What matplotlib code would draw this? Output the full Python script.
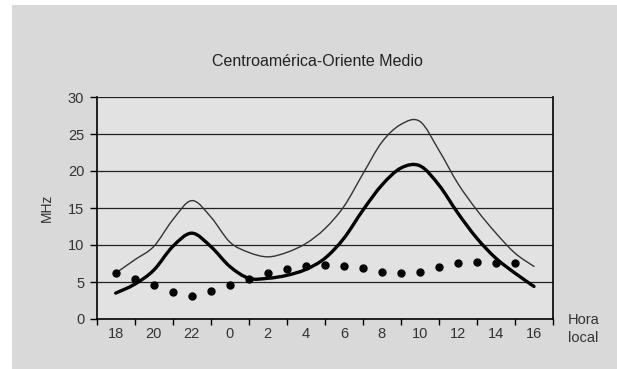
import matplotlib
matplotlib.use('Agg')
import matplotlib.pyplot as plt
from matplotlib.patches import Rectangle, PathPatch
from matplotlib.path import Path

plt.rcParams['font.family'] = ['Liberation Sans', 'DejaVu Sans']

# local hour, continuous from 18 (day 1) to 16 (day 2)
hours = [18, 19, 20, 21, 22, 23, 24, 25, 26, 27, 28, 29, 30, 31, 32, 33, 34, 35, 36, 37, 38, 39, 40]
upper = [6.2, 8.0, 9.8, 13.4, 16.0, 13.8, 10.4, 9.0, 8.4, 9.0, 10.2, 12.2, 15.2, 19.6, 23.9, 26.3, 26.7, 22.8, 18.3, 14.7, 11.6, 8.9, 7.1]
lower = [3.5, 4.7, 6.6, 9.8, 11.6, 9.8, 7.1, 5.5, 5.5, 5.9, 6.7, 8.2, 10.9, 14.7, 18.1, 20.4, 20.7, 18.1, 14.3, 10.9, 8.2, 6.2, 4.4]
# dotted series has no point at 16 h
dot_hours = hours[:-1]
dots = [6.2, 5.4, 4.6, 3.6, 3.15, 3.8, 4.6, 5.4, 6.25, 6.7, 7.1, 7.3, 7.1, 6.95, 6.4, 6.2, 6.4, 7.0, 7.55, 7.7, 7.55, 7.55]

tick_hours = list(range(18, 41, 2))
tick_labels = [str(h % 24) for h in tick_hours]
y_ticks = [0, 5, 10, 15, 20, 25, 30]


def smooth_path(xs, ys):
    # Excel-like smoothed line: cubic bezier through every point
    verts = [(xs[0], ys[0])]
    codes = [Path.MOVETO]
    n = len(xs)
    for i in range(n - 1):
        x0, y0 = (xs[i - 1], ys[i - 1]) if i > 0 else (xs[i], ys[i])
        x1, y1 = xs[i], ys[i]
        x2, y2 = xs[i + 1], ys[i + 1]
        x3, y3 = (xs[i + 2], ys[i + 2]) if i + 2 < n else (x2, y2)
        verts += [(x1 + (x2 - x0) / 6, y1 + (y2 - y0) / 6),
                  (x2 - (x3 - x1) / 6, y2 - (y3 - y1) / 6),
                  (x2, y2)]
        codes += [Path.CURVE4] * 3
    return Path(verts, codes)


fig = plt.figure(figsize=(6.17, 3.69), dpi=100)
fig.patch.set_facecolor('white')
fig.patches.append(Rectangle((12 / 617, 0), 1, 1 - 5 / 369, transform=fig.transFigure,
                             facecolor='#d9d9d9', edgecolor='none', zorder=-5))

ax = fig.add_axes([96.7 / 617, 1 - 319 / 369, (553 - 96.7) / 617, (319 - 97) / 369])
ax.set_zorder(2)
ax.set_facecolor('#e2e2e2')

for y in y_ticks[1:]:
    ax.axhline(y, color='#222222', lw=0.9, zorder=1)

ax.add_patch(PathPatch(smooth_path(hours, upper), fill=False, edgecolor='#333333',
                       lw=1.0, zorder=3, capstyle='round'))
ax.add_patch(PathPatch(smooth_path(hours, lower), fill=False, edgecolor='black',
                       lw=2.4, zorder=3, capstyle='round'))
ax.plot(dot_hours, dots, 'o', color='black', ms=5, zorder=4)

ax.set_xlim(17, 41)
ax.set_ylim(0, 30)
ax.set_yticks(y_ticks)
ax.set_xticks(range(17, 42, 2))
ax.set_xticklabels([])
ax.set_xticks(tick_hours, minor=True)
ax.set_xticklabels(tick_labels, minor=True)
ax.tick_params(axis='x', which='minor', length=0, pad=6, labelsize=10.5, labelcolor='#333333')
ax.tick_params(axis='x', which='major', length=4, width=1, direction='out')
ax.tick_params(axis='y', length=5, width=1, direction='out', pad=4, labelsize=10.5, labelcolor='#333333')

for side in ['left', 'bottom', 'right']:
    ax.spines[side].set_color('black')
    ax.spines[side].set_linewidth(1.2)
ax.spines['top'].set_visible(False)

ax.set_ylabel('MHz', fontsize=10, color='#333333', labelpad=10)
fig.text(317 / 617, 1 - 62 / 369, 'Centroamérica-Oriente Medio', ha='center', va='center',
         fontsize=11.5, color='#222222')
fig.text(568 / 617, 1 - 320 / 369, 'Hora', ha='left', va='center', fontsize=10.5, color='#333333')
fig.text(568 / 617, 1 - 338 / 369, 'local', ha='left', va='center', fontsize=10.5, color='#333333')

fig.savefig('out.png', dpi=100)
